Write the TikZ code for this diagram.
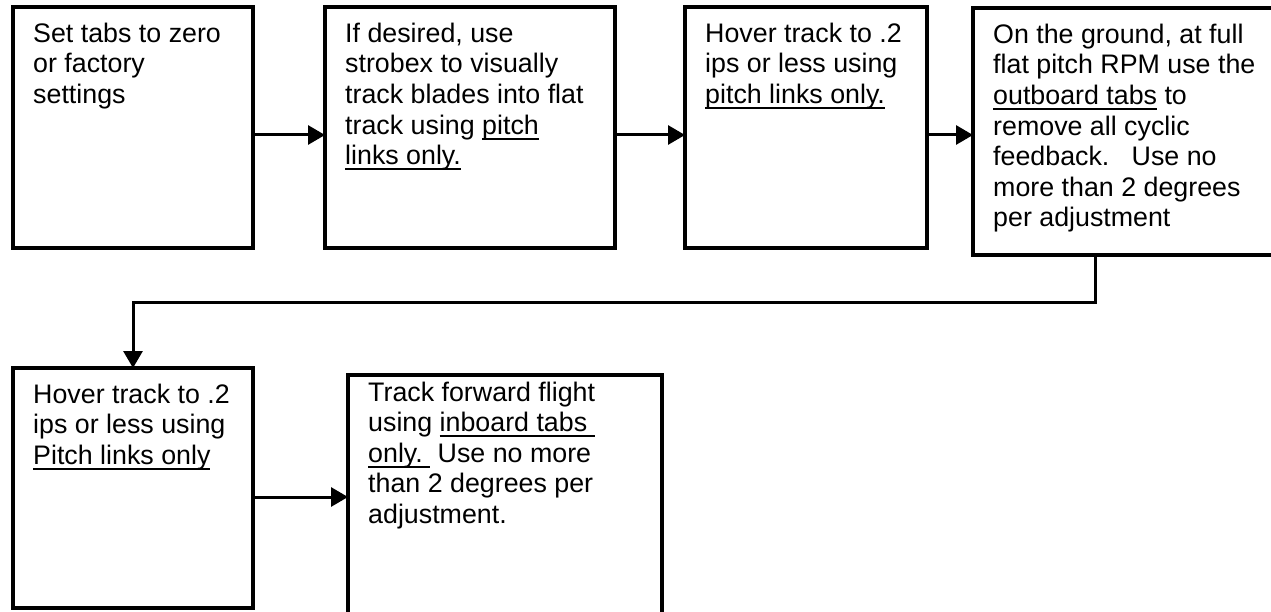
\documentclass[tikz,border=0pt]{standalone}
\usepackage{fontspec}
\setmainfont{Liberation Sans}
\usetikzlibrary{arrows.meta}
\newcommand\myul[1]{\setbox0\hbox{#1}\rlap{\rule[-5.5pt]{\wd0}{2pt}}\box0\relax}
\begin{document}
\begin{tikzpicture}[x=1pt,y=-1pt,
  box/.style={draw=black, line width=3.5pt, rectangle, inner sep=0pt, outer sep=0pt, anchor=north west},
  txt/.style={anchor=north west, inner sep=0pt, align=left, font=\fontsize{26.8pt}{30.6pt}\selectfont},
  conn/.style={line width=3pt, -{Triangle[length=17pt,width=19pt]}}]
\useasboundingbox (0,0) rectangle (1271,612);
\fill[white] (0,0) rectangle (1271,612);
\clip (0,0) rectangle (1271,612);

\node[box, minimum width=240pt, minimum height=241pt] (b1) at (13,7) {};
\node[box, minimum width=290pt, minimum height=241pt] (b2) at (325,7) {};
\node[box, minimum width=242pt, minimum height=241pt] (b3) at (685,7) {};
\node[box, minimum width=320pt, minimum height=247pt] (b4) at (973,8) {};
\node[box, minimum width=240pt, minimum height=240pt] (b5) at (13,368) {};
\node[box, minimum width=314pt, minimum height=250pt] (b6) at (348,375) {};

\node[txt] (t1) at ([shift={(20,13.6)}]b1.north west) {\strut Set tabs to zero\\or factory\\settings};
\node[txt] (t2) at ([shift={(20,13.6)}]b2.north west) {\strut If desired, use\\strobex to visually\\track blades into flat\\track using \myul{pitch}\\\myul{links only.}};
\node[txt] (t3) at ([shift={(20,13.6)}]b3.north west) {\strut Hover track to .2\\ips or less using\\\myul{pitch links only.}};
\node[txt] (t4) at ([shift={(20,13.6)}]b4.north west) {\strut On the ground, at full\\flat pitch RPM use the\\\myul{outboard tabs} to\\remove all cyclic\\feedback.\ \ \ Use no\\more than 2 degrees\\per adjustment};
\node[txt] (t5) at ([shift={(20,13.6)}]b5.north west) {\strut Hover track to .2\\ips or less using\\\myul{Pitch links only}};
\node[txt] (t6) at ([shift={(20,4.5)}]b6.north west) {\strut Track forward flight\\using \myul{inboard tabs\ }\\\myul{only.\ }\ Use no more\\than 2 degrees per\\adjustment.};

\coordinate (c1) at (1095,302);
\coordinate (c2) at (133,302);
\draw[conn] (b1.east |- 0,135) -- (b2.west |- 0,135);
\draw[conn] (b2.east |- 0,135) -- (b3.west |- 0,135);
\draw[conn] (b3.east |- 0,135) -- (b4.west |- 0,135);
\draw[conn] (b4.south -| c1) -- (c1) -- (c2) -- (b5.north -| c2);
\draw[conn] (b5.east |- 0,497) -- (b6.west |- 0,497);
\end{tikzpicture}
\end{document}
